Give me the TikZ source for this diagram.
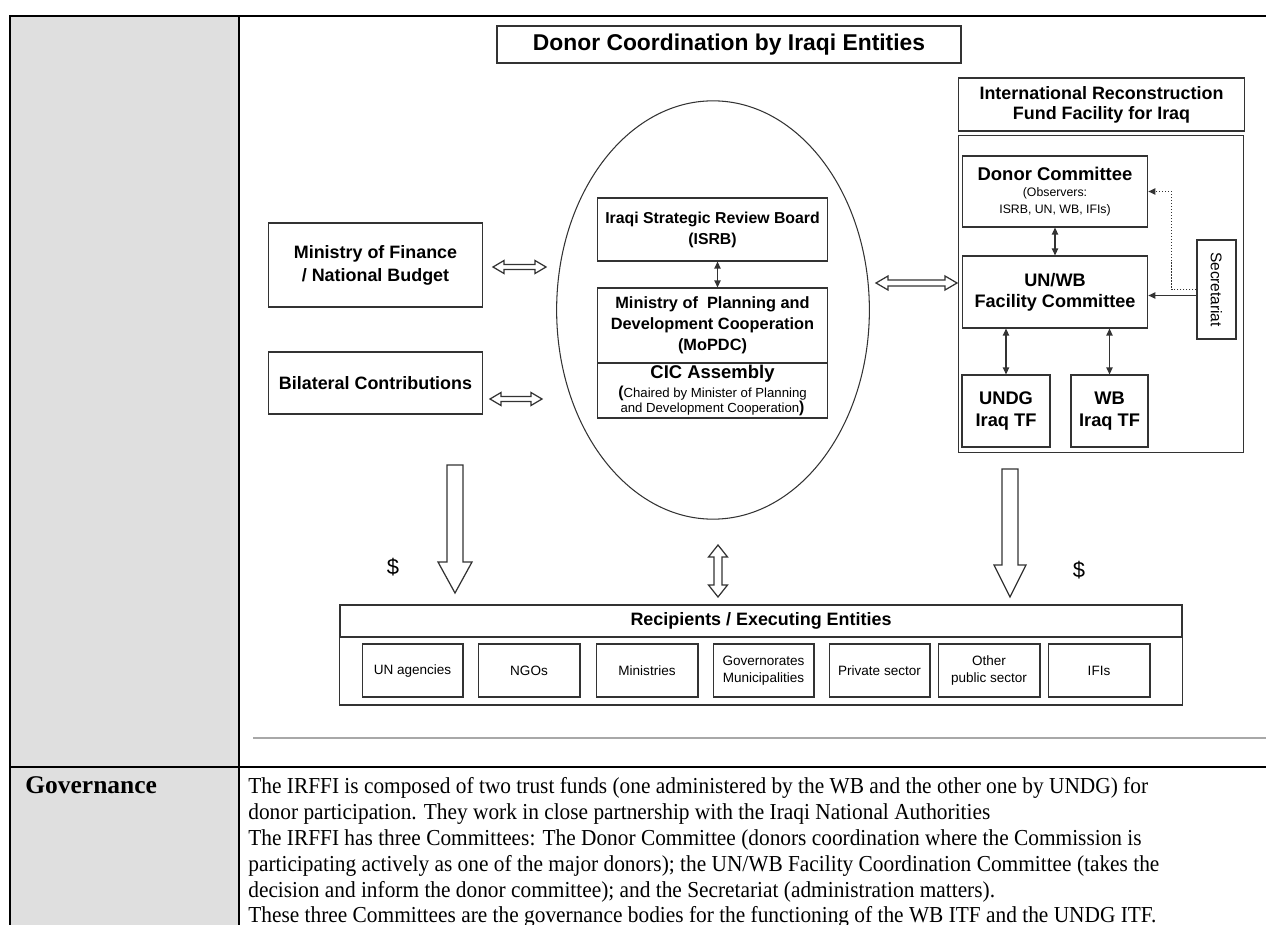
\documentclass[tikz,border=0pt]{standalone}
\usepackage{fontspec}
\setmainfont{Liberation Serif}
\setsansfont{Liberation Sans}
\usetikzlibrary{arrows.meta,calc,shapes.geometric}
\definecolor{cellgray}{HTML}{DFDFDF}
\definecolor{boxline}{HTML}{333333}
\definecolor{rulegray}{HTML}{A8A8A8}
\newcommand{\bline}[1]{\scalebox{0.935}[1]{#1}}
\newcommand{\fs}[2]{\fontsize{#1}{#2}\selectfont}
\begin{document}
\begin{tikzpicture}[x=0.02cm,y=-0.02cm,
  rb/.style n args={4}{minimum width={(#3-#1)*0.5669pt}, minimum height={(#4-#2)*0.5669pt}, at={({(#1+#3)/2},{(#2+#4)/2})}},
  box/.style={draw=boxline, line width=0.8pt, inner sep=0pt, align=center, anchor=center, font=\sffamily\bfseries},
  subbox/.style={draw=boxline, line width=0.8pt, inner sep=0pt, align=center, anchor=center, font=\sffamily\fs{7.7}{9.5}},
  dar/.style={{Triangle[length=4pt,width=3.6pt]}-{Triangle[length=4pt,width=3.6pt]}, line width=0.7pt, boxline},
  sar/.style={-{Triangle[length=4pt,width=3.6pt]}, line width=0.7pt, boxline},
  hollow/.style={draw=boxline, fill=white, line width=0.7pt, line join=miter},
  frame/.style={line width=1.4pt, black},
  body/.style={anchor=base west, inner sep=0pt, font=\fs{13}{15}},
]
\useasboundingbox (0,0) rectangle (1266,925);
\clip (0,0) rectangle (1266,925);
% table frame
\fill[cellgray] (10,16) rectangle (239,930);
\draw[frame] (10,930) -- (10,16) -- (1270,16);
\draw[frame] (239,16) -- (239,930);
\draw[frame] (10,767) -- (1270,767);
\draw[rulegray, line width=0.6pt] (253,738) -- (1270,738);

% title
\node[box, rb={496}{26}{962}{63}, font=\sffamily\bfseries\fs{13}{15}] (title) {Donor Coordination by Iraqi Entities};

% left boxes
\node[box, rb={268}{223}{483}{307}, font=\sffamily\bfseries\fs{10.2}{13}] (mof) {Ministry of Finance\\/ National Budget};
\node[box, rb={268}{352}{483}{414}, font=\sffamily\bfseries\fs{10.2}{13}] (bil) {Bilateral Contributions};

% ellipse and its boxes
\node[draw=boxline, line width=0.6pt, ellipse, inner sep=0pt, minimum width=314*0.5669pt, minimum height=420*0.5669pt] (ell) at (713,310) {};
\node[box, rb={597}{198}{828}{261}, font=\sffamily\bfseries\fs{9}{12}] (isrb) {Iraqi Strategic Review Board\\(ISRB)};
\node[box, rb={597}{288}{828}{363}, font=\sffamily\bfseries\fs{9.3}{11.8}] (mopdc) {Ministry of~ Planning and\\Development Cooperation\\(MoPDC)};
\node[box, rb={597}{363}{828}{418}, font=\sffamily\fs{7.5}{8.5}] (cic) {{\bfseries\fs{10.5}{12}CIC Assembly}\\[1pt]{\bfseries\fs{9}{8.5}(}Chaired by Minister of Planning\\and Development Cooperation{\bfseries\fs{9}{8.5})}};
\draw[dar] ($(isrb.south)+(5,0)$) -- ($(mopdc.north)+(5,0)$);

% IRFFI
\node[box, rb={958}{78}{1245}{131}, font=\sffamily\bfseries\fs{10.2}{11.3}] (irffih) {International Reconstruction\\Fund Facility for Iraq};
\node[box, rb={958}{135}{1244}{453}] (irffi) {};
\node[box, rb={962}{156}{1148}{227}, font=\sffamily\fs{7}{9.4}] (donor) {{\bfseries\fs{10.5}{11}Donor Committee}\\(Observers:\\ISRB, UN, WB, IFIs)};
\node[box, rb={962}{256}{1148}{328}, font=\sffamily\bfseries\fs{10.3}{12}] (uw) {UN/WB\\Facility Committee};
\node[box, rb={1197}{240}{1236}{339}] (sec) {};
\node[rotate=-90, inner sep=0pt, font=\sffamily\fs{8.8}{10}] (sectext) at (sec.center) {Secretariat};
\node[box, rb={962}{375}{1050}{447}, font=\sffamily\bfseries\fs{10.4}{12.5}] (undg) {UNDG\\Iraq TF};
\node[box, rb={1071}{375}{1148}{447}, font=\sffamily\bfseries\fs{10.4}{12.5}] (wb) {WB\\Iraq TF};
\draw[dar] (donor.south) -- (uw.north);
\draw[dar] (undg.north |- uw.south) -- (undg.north);
\draw[dar] (wb.north |- uw.south) -- (wb.north);
\coordinate (s1) at ($(sec.west)+(0,6)$);
\draw[sar] (s1) -- (s1 -| uw.east);
\draw[sar, densely dotted] (sec.west) -- ++(-25,0) |- (donor.east);

% recipients
\node[box, rb={338}{605}{1184}{705}] (recip) {};
\node[box, line width=1pt, rb={338}{605}{1184}{637}, font=\sffamily\bfseries\fs{10.2}{12}] (reciph) {Recipients / Executing Entities};
\node[subbox, rb={362}{644}{463}{697}] (un) {UN agencies};
\node[subbox, rb={478}{644}{580}{697}] (ngo) {NGOs};
\node[subbox, rb={596}{644}{698}{697}] (mins) {Ministries};
\node[subbox, rb={713}{644}{814}{697}] (govm) {Governorates\\Municipalities};
\node[subbox, rb={829}{644}{930}{697}] (priv) {Private sector};
\node[subbox, rb={938}{644}{1040}{697}] (oth) {Other\\public sector};
\node[subbox, rb={1048}{644}{1150}{697}] (ifi) {IFIs};

% hollow block arrows
\draw[hollow] (493,267) -- (504,260.5) -- (504,264.5) -- (535,264.5) -- (535,260.5) -- (546,267) -- (535,273.5) -- (535,269.5) -- (504,269.5) -- (504,273.5) -- cycle;
\draw[hollow] (490,399) -- (501,392.5) -- (501,396.5) -- (531,396.5) -- (531,392.5) -- (542,399) -- (531,405.5) -- (531,401.5) -- (501,401.5) -- (501,405.5) -- cycle;
\draw[hollow] (876,283) -- (888,276) -- (888,280) -- (945,280) -- (945,276) -- (957,283) -- (945,290) -- (945,286) -- (888,286) -- (888,290) -- cycle;
\draw[hollow] (718,545) -- (727.5,557) -- (722,557) -- (722,585) -- (727.5,585) -- (718,597) -- (708.5,585) -- (714,585) -- (714,557) -- (708.5,557) -- cycle;
\draw[hollow] (447,465) -- (463,465) -- (463,562) -- (472,562) -- (455,593) -- (438,562) -- (447,562) -- cycle;
\draw[hollow] (1002,469) -- (1018,469) -- (1018,565) -- (1026,565) -- (1010,597) -- (994,565) -- (1002,565) -- cycle;
\node[font=\sffamily\fs{12.5}{13}] (d1) at (393,567) {\$};
\node[font=\sffamily\fs{12.5}{13}] (d2) at (1079,570) {\$};

% governance row
\node[anchor=base west, inner sep=0pt, font=\bfseries\fs{14.5}{16}] (govlabel) at (25,793) {Governance};
\node[body] (t1) at (248,793) {\bline{The IRFFI is composed of two trust funds (one administered by the WB and the other one by UNDG) for}};
\node[body] (t2) at (248,819) {\bline{donor participation. They work in close partnership with the Iraqi National Authorities}};
\node[body] (t3) at (248,845) {\bline{The IRFFI has three Committees: The Donor Committee (donors coordination where the Commission is}};
\node[body] (t4) at (248,871) {\bline{participating actively as one of the major donors); the UN/WB Facility Coordination Committee (takes the}};
\node[body] (t5) at (248,897) {\bline{decision and inform the donor committee); and the Secretariat (administration matters).}};
\node[body] (t6) at (248,922) {\bline{These three Committees are the governance bodies for the functioning of the WB ITF and the UNDG ITF.}};
\end{tikzpicture}
\end{document}
